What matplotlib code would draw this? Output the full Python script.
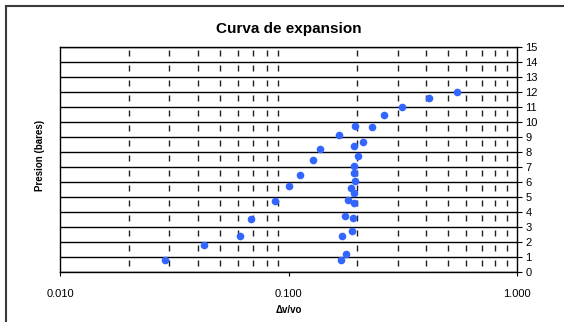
import matplotlib
matplotlib.use("Agg")
import matplotlib.pyplot as plt
from matplotlib.lines import Line2D
from matplotlib.ticker import FixedLocator, FixedFormatter, NullFormatter, LogLocator

plt.rcParams['font.family'] = ['Liberation Sans', 'DejaVu Sans']
plt.rcParams['lines.scale_dashes'] = False

# Loading branch of the expansion curve
dv_vo_carga = [0.0286, 0.0425, 0.0613, 0.0686, 0.0872, 0.100, 0.1116, 0.1277,
               0.1373, 0.166, 0.1945, 0.2307, 0.262, 0.312, 0.410, 0.548]
presion_carga = [0.82, 1.82, 2.42, 3.55, 4.73, 5.77, 6.46, 7.49,
                 8.20, 9.13, 9.78, 9.69, 10.47, 11.04, 11.62, 12.00]

# Near-vertical branch
dv_vo_vert = [0.169, 0.178, 0.171, 0.190, 0.176, 0.191, 0.181, 0.193,
              0.194, 0.187, 0.1945, 0.193, 0.194, 0.201, 0.194, 0.2115]
presion_vert = [0.80, 1.22, 2.40, 2.73, 3.73, 3.62, 4.80, 4.62,
                5.29, 5.64, 6.09, 6.62, 7.11, 7.73, 8.42, 8.67]

x_ticks = [0.01, 0.1, 1.0]
x_labels = ["0.010", "0.100", "1.000"]
y_ticks = list(range(0, 16))

W, H = 564, 322
fig = plt.figure(figsize=(W / 100, H / 100), dpi=100)

# outer chart frame (left and top edges only; the rest runs off the canvas)
x0, y0 = 5.5 / W, 1 - 5.5 / H
fig.add_artist(Line2D([x0, x0, 1.0], [0.0, y0, y0], transform=fig.transFigure,
                      color='#3a3a3a', linewidth=1.5, solid_joinstyle='miter'))

ax = fig.add_axes([60.4 / W, (H - 272.3) / H, 456.6 / W, 225 / H])
ax.set_xscale('log')
ax.set_xlim(0.01, 1.0)
ax.set_ylim(0, 15)

px = 0.72  # points per pixel at 100 dpi
ax.xaxis.set_major_locator(FixedLocator(x_ticks))
ax.xaxis.set_major_formatter(FixedFormatter(x_labels))
ax.xaxis.set_minor_locator(LogLocator(base=10, subs=range(2, 10)))
ax.xaxis.set_minor_formatter(NullFormatter())
ax.xaxis.grid(True, which='minor', color='#202020', linewidth=1.0,
              linestyle=(9 * px, (6 * px, 9 * px)))
ax.tick_params(axis='x', which='minor', length=0)
ax.tick_params(axis='x', which='major', direction='out', length=3,
               width=0.8, labelsize=8, pad=9)

ax.yaxis.tick_right()
ax.set_yticks(y_ticks)
ax.yaxis.grid(True, which='major', color='black', linewidth=1.0)
ax.tick_params(axis='y', which='major', direction='out', length=3.5,
               width=0.8, labelsize=8, pad=2.5)
ax.set_axisbelow(True)

for s in ax.spines.values():
    s.set_color('black')
    s.set_linewidth(1.0)

ax.plot(dv_vo_carga, presion_carga, 'o', color='#3366ff', markersize=5.5,
        markeredgewidth=0, zorder=3, clip_on=False)
ax.plot(dv_vo_vert, presion_vert, 'o', color='#3366ff', markersize=5.5,
        markeredgewidth=0, zorder=3, clip_on=False)

fig.text((60.4 + 517) / 2 / W, 1 - 29.5 / H, "Curva de expansion",
         ha='center', va='center', fontsize=11, fontweight='bold')
ax.set_xlabel("Δv/vo", fontsize=7, fontweight='bold', labelpad=4)
fig.text(39.6 / W, 1 - 155 / H, "Presion (bares)", rotation=90,
         ha='center', va='center', fontsize=7, fontweight='bold')

fig.savefig("out.png", dpi=100)
